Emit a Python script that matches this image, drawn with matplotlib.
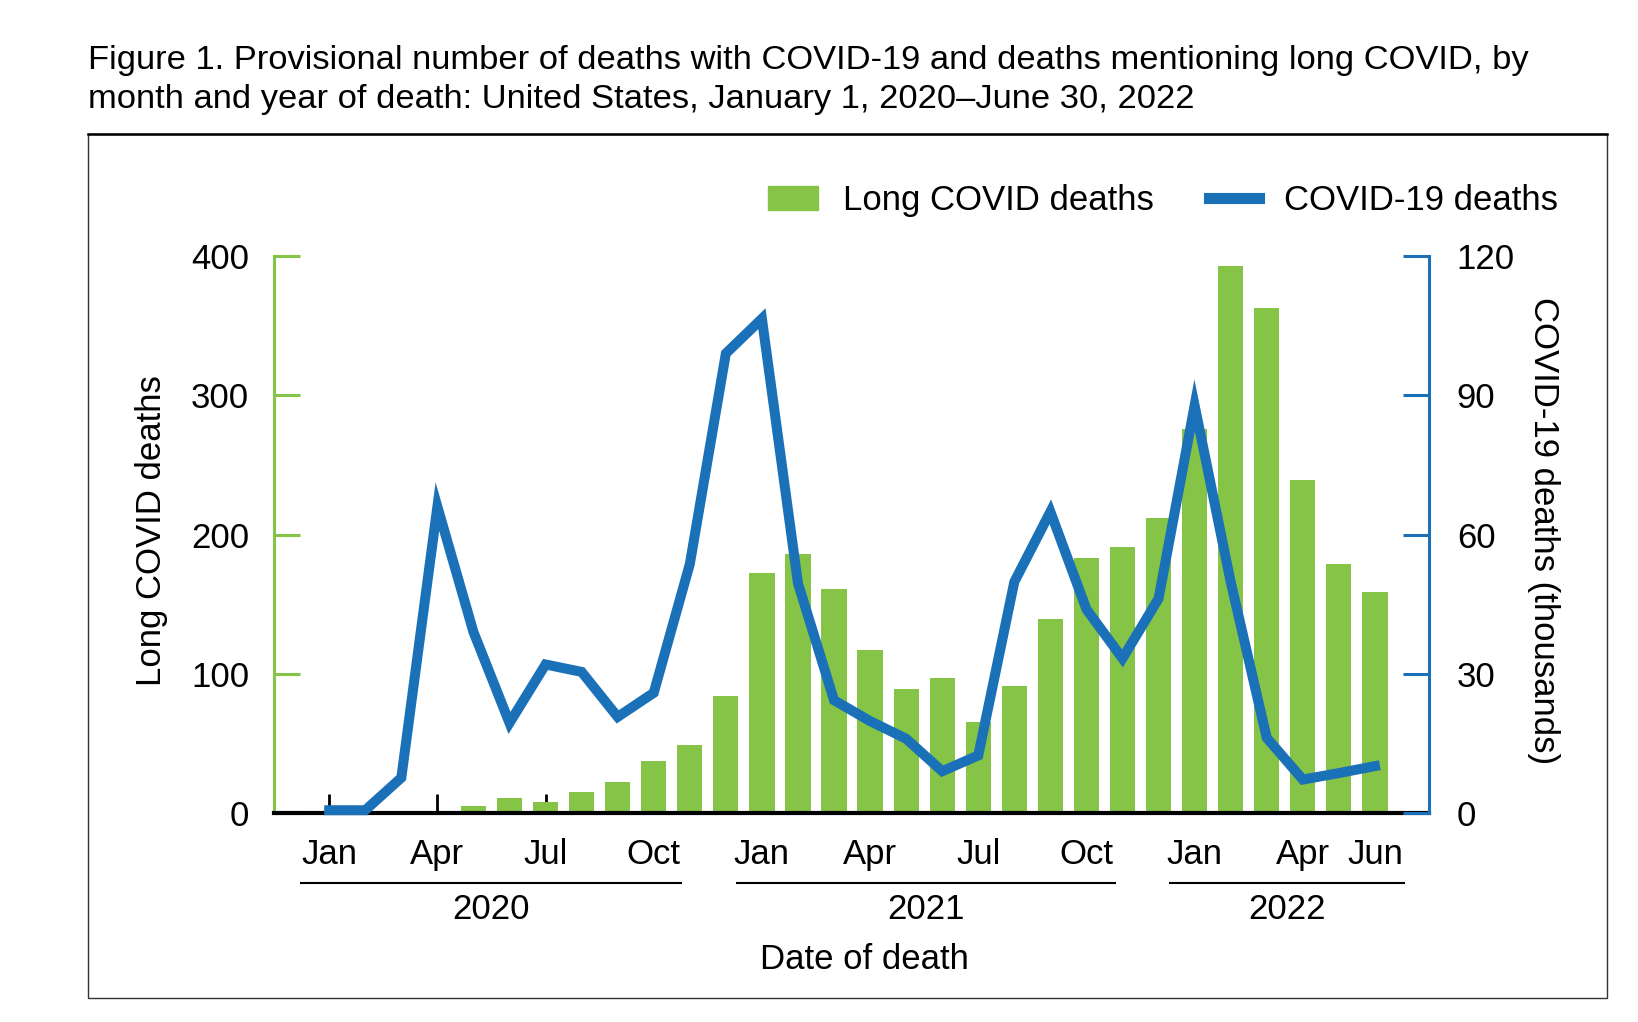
import matplotlib.pyplot as plt
from matplotlib.patches import Rectangle
from matplotlib.lines import Line2D

plt.rcParams['font.family'] = ['Liberation Sans', 'DejaVu Sans']

# Jan 2020 .. Jun 2022, one entry per month
months = ['Jan', 'Feb', 'Mar', 'Apr', 'May', 'Jun', 'Jul', 'Aug', 'Sep', 'Oct', 'Nov', 'Dec'] * 2 + \
         ['Jan', 'Feb', 'Mar', 'Apr', 'May', 'Jun']
long_covid = [0, 0, 0, 0, 5, 11, 8, 15, 22, 37, 49, 84,
              172, 186, 161, 117, 89, 97, 65, 91, 139, 183, 191, 212,
              276, 393, 363, 239, 179, 159]
covid_thousands = [0.6, 0.6, 7.6, 66, 39, 19.4, 32, 30.4, 20.7, 25.9, 53.6, 99,
                   106.5, 49.5, 24.3, 19.8, 16, 9, 12.4, 49.8, 64.9, 43.9, 33.3, 46.2,
                   87.8, 49.8, 16.2, 7.2, 8.6, 10.1]
years = ['2020', '2021', '2022']
tick_labels = ['Jan', 'Apr', 'Jul', 'Oct', 'Jan', 'Apr', 'Jul', 'Oct', 'Jan', 'Apr']

green = '#85c446'
blue = '#1b71b8'
fs = 25

fig = plt.figure(figsize=(16.38, 10.22), dpi=100)
ax = fig.add_axes([0.1673, 0.2045, 0.8724 - 0.1673, 0.7495 - 0.2045])
ax2 = ax.twinx()

x = list(range(len(months)))
ax.bar(x, long_covid, width=0.7, color=green, zorder=2)
ax2.plot(x, covid_thousands, color=blue, lw=7.2, solid_joinstyle='miter', clip_on=False, zorder=3)

ax.set_xlim(-1.53, 30.5)
ax.set_ylim(0, 400)
ax2.set_ylim(0, 120)

for s in ['top', 'right']:
    ax.spines[s].set_visible(False)
for s in ['top', 'left', 'bottom']:
    ax2.spines[s].set_visible(False)
ax.spines['left'].set_color(green)
ax.spines['left'].set_linewidth(2.2)
ax.spines['bottom'].set_color('black')
ax.spines['bottom'].set_linewidth(3)
ax.spines['bottom'].set_zorder(5)
ax2.spines['right'].set_color(blue)
ax2.spines['right'].set_linewidth(2.2)

ax.set_yticks([0, 100, 200, 300, 400])
ax.tick_params(axis='y', direction='in', length=19, width=2.2, color=green, pad=18, labelsize=fs)
ax2.set_yticks([0, 30, 60, 90, 120])
ax2.tick_params(axis='y', direction='in', length=19, width=2.2, color=blue, pad=20, labelsize=fs)

ax.set_xticks([0, 3, 6, 9, 12, 15, 18, 21, 24, 27])
ax.set_xticklabels(tick_labels)
ax.set_xticks([29], minor=True)
ax.set_xticklabels(['Jun'], minor=True)
ax.tick_params(axis='x', which='major', direction='in', length=14, width=2, color='black', pad=18, labelsize=fs)
ax.tick_params(axis='x', which='minor', direction='in', length=8, width=2, color='black', pad=18, labelsize=fs)

# year brackets under the month labels
tr = ax.get_xaxis_transform()
spans = [(-0.78, 9.77), (11.3, 21.8), (23.33, 29.8)]
for (a, b), yr in zip(spans, years):
    ax.plot([a, b], [-0.1257, -0.1257], color='black', lw=1.5, transform=tr, clip_on=False)
    ax.text((a + b) / 2, -0.174, yr, transform=tr, ha='center', va='center', fontsize=fs)
ax.text(14.84, -0.2626, 'Date of death', transform=tr, ha='center', va='center', fontsize=fs)

fig.text(0.0923, 0.4804, 'Long COVID deaths', rotation=90, ha='center', va='center', fontsize=fs)
fig.text(0.9426, 0.4804, 'COVID-19 deaths (thousands)', rotation=270, ha='center', va='center', fontsize=fs)

handles = [Rectangle((0, 0), 1, 1, color=green), Line2D([], [], color=blue, lw=8)]
fig.legend(handles, ['Long COVID deaths', 'COVID-19 deaths'], loc='center left',
           bbox_to_anchor=(768 / 1638, 0.804), ncol=2, frameon=False, fontsize=fs,
           borderaxespad=0, borderpad=0, handlelength=1.45, handletextpad=0.7, columnspacing=1.6)

fig.text(0.0537, 1 - 45 / 1022,
         'Figure 1. Provisional number of deaths with COVID-19 and deaths mentioning long COVID, by\n'
         'month and year of death: United States, January 1, 2020\u2013June 30, 2022',
         ha='left', va='top', fontsize=24.8, linespacing=1.32)

# frame around chart area
fig.patches.append(Rectangle((0.0537, 0.0235), 0.981 - 0.0537, 0.8689 - 0.0235,
                             transform=fig.transFigure, fill=False, ec='#333333', lw=1))
fig.add_artist(Line2D([0.0537, 0.981], [0.8689, 0.8689], color='black', lw=1.8, transform=fig.transFigure))

fig.savefig('out.png', dpi=100)
